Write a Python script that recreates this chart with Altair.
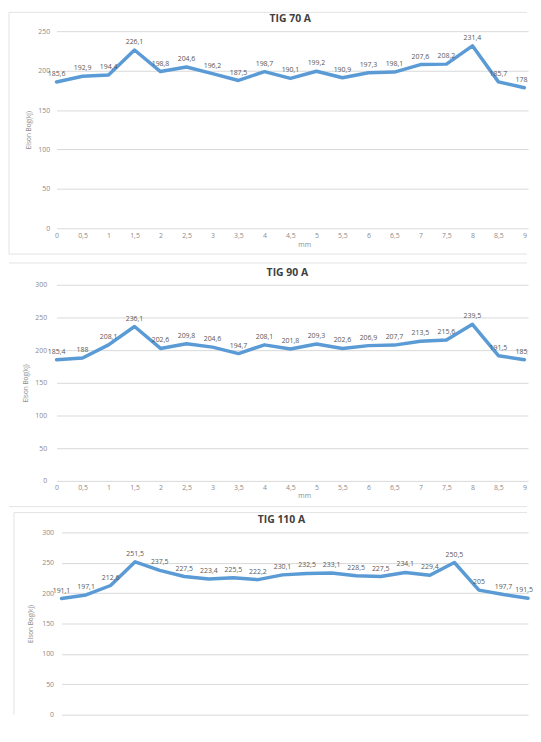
import altair as alt
import pandas as pd

# ---- data ----
mm_70 = [0, 0.5, 1, 1.5, 2, 2.5, 3, 3.5, 4, 4.5, 5, 5.5, 6, 6.5, 7, 7.5, 8, 8.5, 9]
tig_70 = [185.6, 192.9, 194.4, 226.1, 198.8, 204.6, 196.2, 187.5, 198.7, 190.1,
          199.2, 190.9, 197.3, 198.1, 207.6, 208.2, 231.4, 185.7, 178.3]

mm_90 = [0, 0.5, 1, 1.5, 2, 2.5, 3, 3.5, 4, 4.5, 5, 5.5, 6, 6.5, 7, 7.5, 8, 8.5, 9]
tig_90 = [185.4, 188, 208.1, 236.1, 202.6, 209.8, 204.6, 194.7, 208.1, 201.8,
          209.3, 202.6, 206.9, 207.7, 213.5, 215.6, 239.5, 191.5, 185.3]

mm_110 = [0, 0.5, 1, 1.5, 2, 2.5, 3, 3.5, 4, 4.5, 5, 5.5, 6, 6.5, 7, 7.5, 8, 8.5, 9, 9.5]
tig_110 = [191.1, 197.1, 212.6, 251.5, 237.5, 227.5, 223.4, 225.5, 222.2, 230.1,
           232.5, 233.1, 228.5, 227.5, 234.1, 229.4, 250.5, 205, 197.7, 191.5]

titles = ["TIG 70 A", "TIG 90 A", "TIG 110 A"]
y_title = "Elson Bog(kj)"
x_title = "mm"

LINE = "#5B9BD5"
GRID = "#D9D9D9"
FRAME = "#E3E3E3"
VAL = "#595959"
AXC = "#8C8C8C"
TITLEC = "#404040"
FONT = "Open Sans"


def fmt(v):
    return f"{v:g}".replace(".", ",")


def panel(mm, vals, title, ymax, w, h, xscale, yscale, lab_pad, ytitle_x,
          ytitle_y, title_x, frame, xaxis, clip_from, last_dx=0, last_clip=True):
    df = pd.DataFrame({"mm": mm, "val": vals, "lbl": [fmt(v) for v in vals]})
    x_enc = alt.X("mm:Q", scale=xscale, axis=xaxis)
    y_enc = alt.Y(
        "val:Q",
        scale=yscale,
        axis=alt.Axis(
            values=list(range(0, ymax + 1, 50)),
            title=y_title,
            titleX=ytitle_x,
            titleY=ytitle_y,
            titleBaseline="middle",
            titleFontSize=6.5,
            titleFontWeight="normal",
            titleColor=AXC,
            titleFont=FONT,
            labelFontSize=7,
            labelColor=AXC,
            labelFont=FONT,
            labelPadding=lab_pad,
            ticks=False,
            domain=False,
            gridColor=GRID,
            gridWidth=1,
        ),
    )
    base = alt.Chart(df)
    line = base.mark_line(color=LINE, strokeWidth=3.5, strokeJoin="round",
                          strokeCap="round").encode(x=x_enc, y=y_enc)
    labels_a = base.transform_filter(f"datum.mm < {clip_from}").mark_text(
        fontSize=7, color=VAL, font=FONT, dy=-8, baseline="middle").encode(
        x=x_enc, y=y_enc, text="lbl:N")
    labels_b = base.transform_filter(f"datum.mm >= {clip_from}").mark_text(
        fontSize=7, color=VAL, font=FONT, dy=-8, dx=last_dx, baseline="middle",
        clip=last_clip).encode(x=x_enc, y=y_enc, text="lbl:N")
    one = alt.Chart(pd.DataFrame({"t": [title]}))
    ttl = one.mark_text(fontSize=10.5, fontWeight="bold", color=TITLEC,
                        font=FONT, baseline="middle").encode(
        x=alt.value(title_x), y=alt.value(-12), text="t:N")
    rules = []
    for (x1, x2, y1, y2) in frame:
        rules.append(
            one.mark_rule(color=FRAME, strokeWidth=1).encode(
                x=alt.value(x1), x2=alt.value(x2),
                y=alt.value(y1), y2=alt.value(y2))
        )
    return alt.layer(*rules, line, labels_a, labels_b, ttl).properties(
        width=w, height=h)


label_expr = "replace(format(datum.value, '.1~f'), '.', ',')"


def xaxis(values, offset, lab_pad, title_pad):
    return alt.Axis(
        values=values, labelExpr=label_expr, grid=False, ticks=False,
        domain=False, labelFontSize=7, labelColor=AXC, labelFont=FONT,
        labelPadding=lab_pad, labelFlush=False, labelOverlap=False,
        offset=offset, title=x_title, titleFontSize=7, titleFontWeight="normal",
        titleColor=AXC, titleFont=FONT, titleX=250, titlePadding=title_pad,
    )


p1 = panel(
    mm_70, tig_70, titles[0], 250, 476, 204,
    alt.Scale(domain=[0, 9.07]),
    alt.Scale(domain=[0, 250], range=[199, 0]),
    7, -28, 99.5, 236,
    [(-48, 475, -19, -19), (-48, 475, 225, 225), (-48, -48, -19, 225)],
    xaxis(mm_70, -4, 2.5, 2),
    8.75,
)

p2 = panel(
    mm_90, tig_90, titles[1], 300, 476, 198,
    alt.Scale(domain=[0, 9.07]),
    alt.Scale(domain=[0, 300]),
    10, -31, 99, 233,
    [(-48, 475, -22, -22), (-48, 475, 224, 224)],
    xaxis(mm_90, 0, 2.5, 1),
    8.75,
)

p3 = panel(
    mm_110, tig_110, titles[2], 300, 476, 184,
    alt.Scale(domain=[0, 9.5], range=[5, 476]),
    alt.Scale(domain=[0, 300]),
    3, -26, 92, 227,
    [(-43, 475, -20, -20), (-43, -43, -20, 184)],
    None,
    9.25, -4, False,
)

chart = alt.vconcat(p1, p2, p3, spacing=52, bounds="flush").properties(
    padding=0
).configure_view(stroke=None)

chart.save("out.html", embed_options={"renderer": "svg", "actions": False})
